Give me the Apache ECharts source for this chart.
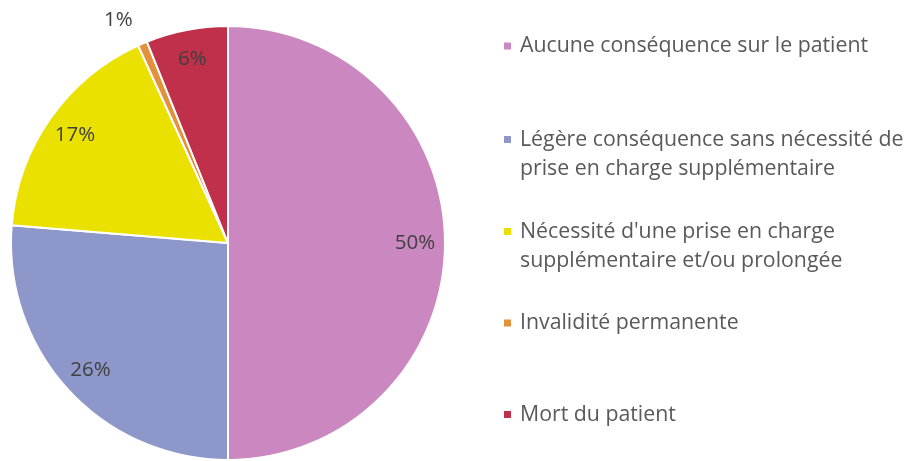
<!DOCTYPE html>
<html>
<head>
<meta charset="utf-8">
<script src="https://cdn.jsdelivr.net/npm/echarts@6/dist/echarts.min.js"></script>
<style>
  html, body { margin: 0; padding: 0; background: #fff; }
  #box { width: 909px; height: 461px; }
</style>
</head>
<body>
<div id="box"></div>
<script>
// categories
var categories = [
    "Aucune conséquence sur le patient",
    "Légère conséquence sans nécessité de\nprise en charge supplémentaire",
    "Nécessité d'une prise en charge\nsupplémentaire et/ou prolongée",
    "Invalidité permanente",
    "Mort du patient"
]
// values (%)
var values = [50.0, 26.3, 16.9, 0.7, 6.1]

var colors = ["#CB87BF", "#8D97CA", "#EAE100", "#E3913A", "#C1304A"]

// legend rows: y of the first text line centre
var legendRows = [46, 139.5, 231.5, 323, 414.5]
var lineH = 29

var myChart = echarts.init(document.getElementById("box"))

var legends = categories.map(function (name, i) {
    var twoLines = name.indexOf("\n") >= 0
    return {
        data: [name],
        orient: "vertical",
        left: 502,
        top: twoLines ? legendRows[i] - lineH * 1.5 : legendRows[i] - lineH / 2,
        padding: 0,
        itemWidth: 9,
        itemHeight: 9,
        icon: "rect",
        selectedMode: false,
        // blank first line so the square sits next to the first text line
        formatter: function (n) { return n.indexOf("\n") >= 0 ? " \n" + n : n },
        textStyle: {
            fontFamily: "Open Sans",
            fontSize: 21.3,
            color: "#595959",
            lineHeight: lineH,
            padding: [0, 0, 0, 3]
        }
    }
})

var pieData = categories.map(function (name, i) {
    return { name: name, value: values[i], itemStyle: { color: colors[i] } }
})

var labelData = categories.map(function (name, i) {
    var item = { name: name, value: values[i] }
    if (values[i] < 2) {
        item.label = { position: "outside", distanceToLabelLine: 0 }
        item.labelLine = { show: false, length: 24, length2: 0 }
    }
    return item
})

var option = {
    animation: false,
    legend: legends,
    series: [
        {
            type: "pie",
            center: [228, 243],
            radius: 217,
            startAngle: 90,
            clockwise: true,
            silent: true,
            label: { show: false },
            labelLine: { show: false },
            itemStyle: { borderColor: "#fff", borderWidth: 2 },
            data: pieData
        },
        {
            // label ring: puts the % labels at ~0.85 of the radius
            type: "pie",
            center: [228, 243],
            radius: [150, 218],
            startAngle: 90,
            clockwise: true,
            silent: true,
            avoidLabelOverlap: false,
            itemStyle: { color: "rgba(0,0,0,0)" },
            label: {
                show: true,
                position: "inside",
                fontFamily: "Open Sans",
                fontSize: 20.5,
                color: "#404040",
                formatter: function (p) { return Math.round(p.value) + "%" }
            },
            labelLine: { show: false },
            data: labelData
        }
    ]
}

myChart.setOption(option)
</script>
</body>
</html>
